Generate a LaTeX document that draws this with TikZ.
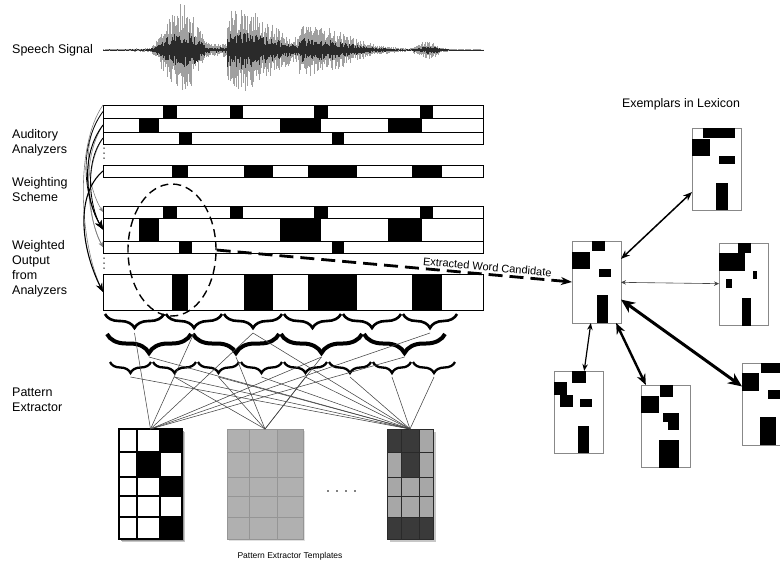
\documentclass[tikz,border=0pt]{standalone}
\usepackage{fontspec}
\setmainfont{Liberation Sans}
\usetikzlibrary{arrows.meta,decorations.pathreplacing,shapes.geometric}
\definecolor{wgray}{HTML}{A0A0A0}
\definecolor{wdark}{HTML}{2A2A2A}
\definecolor{exgray}{HTML}{888888}
\definecolor{tgray}{HTML}{B0B0B0}
\definecolor{tline}{HTML}{959595}
\definecolor{tdark}{HTML}{3A3A3A}
\definecolor{linkgray}{HTML}{444444}
\begin{document}
\begin{tikzpicture}[x=1pt,y=-1pt,
  lbl/.style={font=\fontsize{12.5}{15}\selectfont, align=left, anchor=west, inner sep=0pt},
  rowbar/.style={draw, line width=0.9pt, fill=white, minimum width=380pt, anchor=north west, inner sep=0pt, outer sep=0pt},
  exbox/.style={draw=exgray, line width=0.8pt, fill=white, minimum width=49pt, minimum height=82pt, anchor=north west, inner sep=0pt, outer sep=0pt},
  tplbox/.style={minimum height=110pt, anchor=north west, inner sep=0pt, outer sep=0pt},
  braceA/.style={decorate, decoration={brace, mirror, amplitude=14pt}, line width=2.6pt},
  braceB/.style={decorate, decoration={brace, mirror, amplitude=19pt}, line width=4pt},
  braceC/.style={decorate, decoration={brace, mirror, amplitude=11pt}, line width=2.3pt},
  link/.style={draw=linkgray, line width=0.55pt},
  thinarc/.style={draw=gray, line width=0.6pt, -{Stealth[length=5pt,width=4pt]}},
  fatarc/.style={draw=black, line width=1pt, -{Stealth[length=9pt,width=7pt]}},
  wavegray/.style={draw=wgray, line width=0.85pt},
  wavedark/.style={draw=wdark, line width=0.85pt}
]
\useasboundingbox (0,0) rectangle (780,566);
\clip (0,0) rectangle (780,566);

% ---------- labels ----------
\node[lbl] (ls) at (12,50) {Speech Signal};
\node[lbl] (la) at (12,143) {Auditory\\Analyzers};
\node[lbl] (lw) at (12,189.5) {Weighting\\Scheme};
\node[lbl] (lo) at (12,269) {Weighted\\Output\\from\\Analyzers};
\node[lbl] (lp) at (12,400) {Pattern\\Extractor};
\node[font=\fontsize{12.4}{15}\selectfont, inner sep=0pt] (lx) at (681,104) {Exemplars in Lexicon};
\node[font=\fontsize{8.5}{10}\selectfont, inner sep=0pt] (lt) at (290,556) {Pattern Extractor Templates};

% ---------- speech waveform ----------
\draw[draw=wgray, line width=0.6pt] (103,50) -- (483,50);
\pgfmathsetseed{11}
\foreach \xx in {103,104,...,483}{
  \pgfmathsetmacro\env{1.0 + 30*exp(-(min(abs(\xx-180)/22,2)^4)) + 13*exp(-min(((\xx-182)/8)^2,12)) + (\xx>226)*34*exp(-min(((\xx-238)/40)^2,12)) + (\xx>298)*18*exp(-min(((\xx-315)/45)^2,12)) + 8*exp(-min(((\xx-270)/85)^2,12)) + (\xx>411)*8*exp(-min(((\xx-428)/12)^2,12))}
  \pgfmathsetmacro\up{\env*(0.4+0.6*rnd)}
  \pgfmathsetmacro\dn{\env*(0.4+0.6*rnd)}
  \pgfmathsetmacro\ui{\env*(0.15+0.3*rnd)}
  \pgfmathsetmacro\di{\env*(0.15+0.3*rnd)}
  \draw[wavegray] (\xx,50-\up) -- (\xx,50+\dn);
  \draw[wavedark] (\xx,50-\ui) -- (\xx,50+\di);
}

% ---------- analyzer rows ----------
\node[rowbar, minimum height=13pt] (r1) at (103,105) {};
\node[rowbar, minimum height=14pt] (r2) at (103,118) {};
\node[rowbar, minimum height=12pt] (r3) at (103,132) {};
\node[rowbar, minimum height=12pt] (r4) at (103,165) {};
\node[rowbar, minimum height=12pt] (r5) at (103,206) {};
\node[rowbar, minimum height=23pt] (r6) at (103,218) {};
\node[rowbar, minimum height=12pt] (r7) at (103,241) {};
\node[rowbar, minimum height=36pt] (r8) at (103,274) {};
\foreach \a/\b in {163/177,230/243,314/328,420/433}{
  \fill (\a,105) rectangle (\b,118);
  \fill (\a,206) rectangle (\b,218);}
\foreach \a/\b in {139/159,280/321,388/422}{
  \fill (\a,118) rectangle (\b,132);
  \fill (\a,218) rectangle (\b,241);}
\foreach \a/\b in {179/192,332/344}{
  \fill (\a,132) rectangle (\b,144);
  \fill (\a,241) rectangle (\b,253);}
\foreach \a/\b in {172/188,244/273,308/357,412/442}{
  \fill (\a,165) rectangle (\b,177);
  \fill (\a,274) rectangle (\b,310);}
\foreach \yy in {148,153,158,258,263,268} \fill (104,\yy) circle (0.75);

% ---------- weighting arcs ----------
\draw[thinarc] (r1.west) .. controls +(-24,30) and +(-14,-22) .. (r5.west);
\draw[thinarc] (r2.west) .. controls +(-22,34) and +(-16,-30) .. (r7.west);
\draw[thinarc] (r3.west) .. controls +(-20,30) and +(-14,-24) .. (r7.west);
\draw[thinarc] (r1.north west) .. controls +(-28,40) and +(-24,-50) .. (r8.west);
\draw[fatarc, line width=0.7pt] (r1.west) .. controls +(-26,36) and +(-18,-30) .. (r6.west);
\draw[fatarc] (r2.west) .. controls +(-24,32) and +(-16,-26) .. (r6.west);
\draw[fatarc, line width=0.8pt] (r3.west) .. controls +(-20,26) and +(-12,-20) .. (r6.west);
\draw[fatarc, line width=1.1pt] (r4.west) .. controls +(-28,24) and +(-22,-44) .. (r8.west);

% ---------- dashed selection ----------
\node[draw, dashed, ellipse, line width=1.4pt, dash pattern=on 8pt off 5pt, minimum width=88pt, minimum height=132pt, inner sep=0pt] (el) at (172,250) {};

% ---------- exemplars ----------
\node[exbox] (ce) at (572,241) {};
\node[exbox] (tr) at (692,128) {};
\node[exbox] (rm) at (719,243) {};
\node[exbox] (bl) at (554,371) {};
\node[exbox] (bm) at (641,385) {};
\node[exbox] (br) at (742,363) {};
% central
\fill (592,241) rectangle (605,251);
\fill (572,252) rectangle (590,269);
\fill (599,269) rectangle (611,277);
\fill (597,295) rectangle (608,323);
% top right
\fill (703,128) rectangle (735,138);
\fill (692,139) rectangle (710,156);
\fill (719,156) rectangle (735,164);
\fill (716,183) rectangle (728,210);
% right middle
\fill (738,243) rectangle (751,253);
\fill (719,253) rectangle (745,271);
\fill (753,271) rectangle (757,279);
\fill (726,279) rectangle (732,288);
\fill (742,298) rectangle (751,326);
% bottom left
\fill (572,371) rectangle (586,383);
\fill (554,382) rectangle (567,395);
\fill (560,395) rectangle (573,407);
\fill (580,399) rectangle (592,407);
\fill (578,426) rectangle (589,453);
% bottom middle
\fill (660,385) rectangle (673,397);
\fill (641,396) rectangle (659,413);
\fill (663,413) rectangle (679,422);
\fill (668,422) rectangle (679,430);
\fill (659,440) rectangle (679,468);
% bottom right
\fill (761,363) rectangle (791,373);
\fill (742,373) rectangle (759,391);
\fill (768,390) rectangle (791,399);
\fill (760,417) rectangle (776,445);

\draw[line width=1.5pt, {Stealth[length=9pt,width=7pt]}-{Stealth[length=9pt,width=7pt]}] (ce) -- (tr);
\draw[line width=0.6pt, draw=linkgray, {Stealth[length=5pt,width=4.5pt]}-{Stealth[length=5pt,width=4.5pt]}] (ce) -- (rm);
\draw[line width=3pt, {Stealth[length=14pt,width=12pt]}-{Stealth[length=14pt,width=12pt]}] (ce) -- (br);
\draw[line width=1.2pt, {Stealth[length=7pt,width=5.5pt]}-{Stealth[length=7pt,width=5.5pt]}] (ce) -- (bl);
\draw[line width=2.4pt, {Stealth[length=11pt,width=9pt]}-{Stealth[length=11pt,width=9pt]}] (ce) -- (bm);

% ---------- extracted word candidate ----------
\draw[line width=2.8pt, dash pattern=on 14pt off 7pt, -{Stealth[length=11pt,width=8pt]}] (el.east) -- (ce.west)
  node[pos=0.76, sloped, above=1pt, font=\fontsize{11}{12}\selectfont, inner sep=1pt] (lc) {Extracted Word Candidate};

% ---------- braces ----------
\foreach \a/\b [count=\i] in {105/164,166/222,224/282,284/341,343/401,403/457}{
  \draw[braceA] (\a,314) -- (\b,314);
  \coordinate (a\i) at ({(\a+\b)/2},333);}
\foreach \a/\b [count=\i] in {107/191,193/279,281/362,364/445}{
  \draw[braceB] (\a,334) -- (\b,334);
  \coordinate (b\i) at ({(\a+\b)/2},357);}
\foreach \a/\b [count=\i] in {110/151,153/196,198/239,241/282,284/327,329/371,373/411,413/455}{
  \draw[braceC] (\a,362) -- (\b,362);
  \coordinate (c\i) at ({(\a+\b)/2},377);}

% ---------- templates ----------
\fill[black!22] (122,432) rectangle (185,542);
\fill[black!40] (121,431) rectangle (184,541);
\node[tplbox, minimum width=63pt, fill=white] (t1) at (119,429) {};
\fill (160,429) rectangle (182,452);
\fill (137,452) rectangle (160,477);
\fill (160,477) rectangle (182,496);
\fill (160,517) rectangle (182,539);
\draw[line width=1.1pt] (119,429) rectangle (182,539);
\foreach \yy in {452,477,496,517} \draw[line width=1.1pt] (119,\yy) -- (182,\yy);
\foreach \xx in {137,160} \draw[line width=1.1pt] (\xx,429) -- (\xx,539);

\fill[black!12] (229,431) rectangle (305,541);
\node[tplbox, minimum width=76pt, fill=tgray] (t2) at (227,429) {};
\fill[black!34] (277,429) rectangle (303,452);
\draw[draw=tline, line width=0.9pt] (227,429) rectangle (303,539);
\foreach \yy in {452,477,496,517} \draw[draw=tline, line width=0.9pt] (227,\yy) -- (303,\yy);
\foreach \xx in {249,277} \draw[draw=tline, line width=0.9pt] (\xx,429) -- (\xx,539);

\fill[black!22] (390,432) rectangle (436,542);
\node[tplbox, minimum width=46pt, fill=tgray!95!black] (t3) at (387,429) {};
\fill[tdark] (387,429) rectangle (419,452);
\fill[tdark] (401,452) rectangle (419,477);
\fill[tdark] (387,517) rectangle (433,539);
\draw[draw=wdark, line width=1pt] (387,429) rectangle (433,539);
\foreach \yy in {452,477,496,517} \draw[draw=wdark, line width=1pt] (387,\yy) -- (433,\yy);
\foreach \xx in {401,419} \draw[draw=wdark, line width=1pt] (\xx,429) -- (\xx,539);

\foreach \xx in {328,337,346,355} \fill (\xx,491) circle (0.8);

% ---------- links ----------
\foreach \s in {a1,a2,a3,b3,b4,a6} \draw[link] (\s) -- (t1.north);
\foreach \s in {b2,c2,c3,b3,c5} \draw[link] (\s) -- (t2.north);
\foreach \s in {c1,c2,b1,c3,c4,a3,c5,c6,c7,c8} \draw[link] (\s) -- (t3.north);
\end{tikzpicture}
\end{document}
